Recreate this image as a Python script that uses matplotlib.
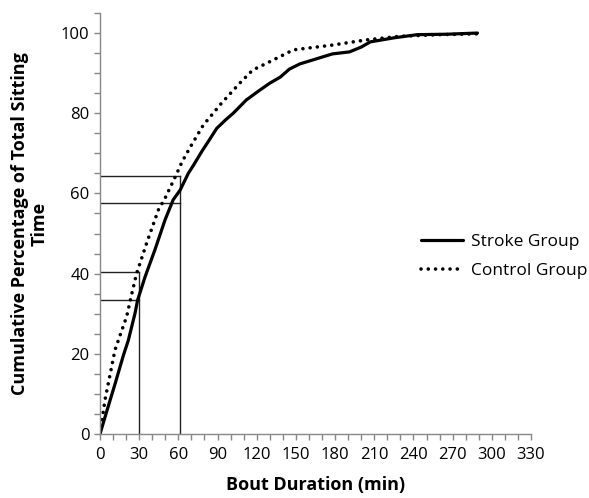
import matplotlib
matplotlib.use('Agg')
import matplotlib.pyplot as plt
from matplotlib.ticker import MultipleLocator

#----------------------------------------------------------------------------
# data

stroke_x = [0, 5, 11.7, 17.8, 21.7, 26.8, 28.8, 34.5, 42, 49.8, 56, 61.3,
            67.6, 71.5, 78, 84, 89.3, 96, 102, 112, 122.5, 130, 138, 145,
            153, 165, 178, 191, 200, 207, 225, 243, 265, 289]
stroke_y = [0, 5.5, 12.7, 19.5, 23.4, 30.1, 33.4, 39.2, 45.9, 53.4, 58.4,
            60.8, 65.0, 67.0, 70.5, 73.5, 76.2, 78.3, 80, 83.3, 85.8, 87.5,
            89, 91, 92.3, 93.5, 94.8, 95.3, 96.5, 97.8, 98.8, 99.6, 99.7, 100]

control_x = [0, 3.8, 11.5, 20.4, 24.5, 28, 35.7, 44.7, 49.8, 57.4, 63, 69,
             79, 93, 107, 117, 127.8, 148, 178, 204, 230, 260, 289]
control_y = [0, 8.5, 21, 29.3, 35.2, 40, 47.6, 55.9, 58.8, 64, 68, 71.5,
             77, 82.5, 87.5, 90.8, 92.5, 95.8, 97, 98.3, 99.2, 99.6, 99.8]

# reference lines (x, y_stroke, y_control)
ref_x = [30, 61.3]
ref_stroke = [33.3, 57.7]
ref_control = [40.4, 64.3]

x_ticks = list(range(0, 331, 30))
y_ticks = list(range(0, 101, 20))

#----------------------------------------------------------------------------

plt.rcParams['font.family'] = ['Open Sans', 'DejaVu Sans']

fig = plt.figure(figsize=(5.89, 4.98), dpi=100)
ax = fig.add_axes([0.1698, 0.1285, 0.7317, 0.8454])

for xv, ys, yc in zip(ref_x, ref_stroke, ref_control):
    top = max(ys, yc)
    ax.plot([xv, xv], [0, top], color='#222222', lw=1.0)
    ax.plot([0.8, xv], [ys, ys], color='#222222', lw=1.0)
    ax.plot([0.8, xv], [yc, yc], color='#222222', lw=1.0)

ax.plot(stroke_x, stroke_y, color='black', lw=2.3, solid_capstyle='round',
        label='Stroke Group')
ax.plot(control_x, control_y, color='black', lw=2.6,
        linestyle=(0, (0.01, 2.0)), dash_capstyle='round',
        label='Control Group')

ax.set_xlim(0, 330)
ax.set_ylim(0, 105)
ax.set_xticks(x_ticks)
ax.set_yticks(y_ticks)
ax.xaxis.set_minor_locator(MultipleLocator(10))
ax.yaxis.set_minor_locator(MultipleLocator(5))

for s in ['top', 'right']:
    ax.spines[s].set_visible(False)
for s in ['left', 'bottom']:
    ax.spines[s].set_color('#888888')
    ax.spines[s].set_linewidth(1.0)

ax.tick_params(which='both', direction='out', length=4, width=1.0,
               color='#888888', labelsize=12, labelcolor='black')
ax.tick_params(axis='x', pad=5)

ax.set_xlabel('Bout Duration (min)', fontsize=13, fontweight='bold', labelpad=10)
ax.set_ylabel('Cumulative Percentage of Total Sitting\nTime', fontsize=13,
              fontweight='bold', linespacing=1.1, labelpad=9)

ax.legend(loc='upper left', bbox_to_anchor=(0.729, 0.492), frameon=False,
          fontsize=12.5, handlelength=2.4, handletextpad=0.46,
          labelspacing=0.75, borderaxespad=0)

fig.savefig('out.png', dpi=100)
